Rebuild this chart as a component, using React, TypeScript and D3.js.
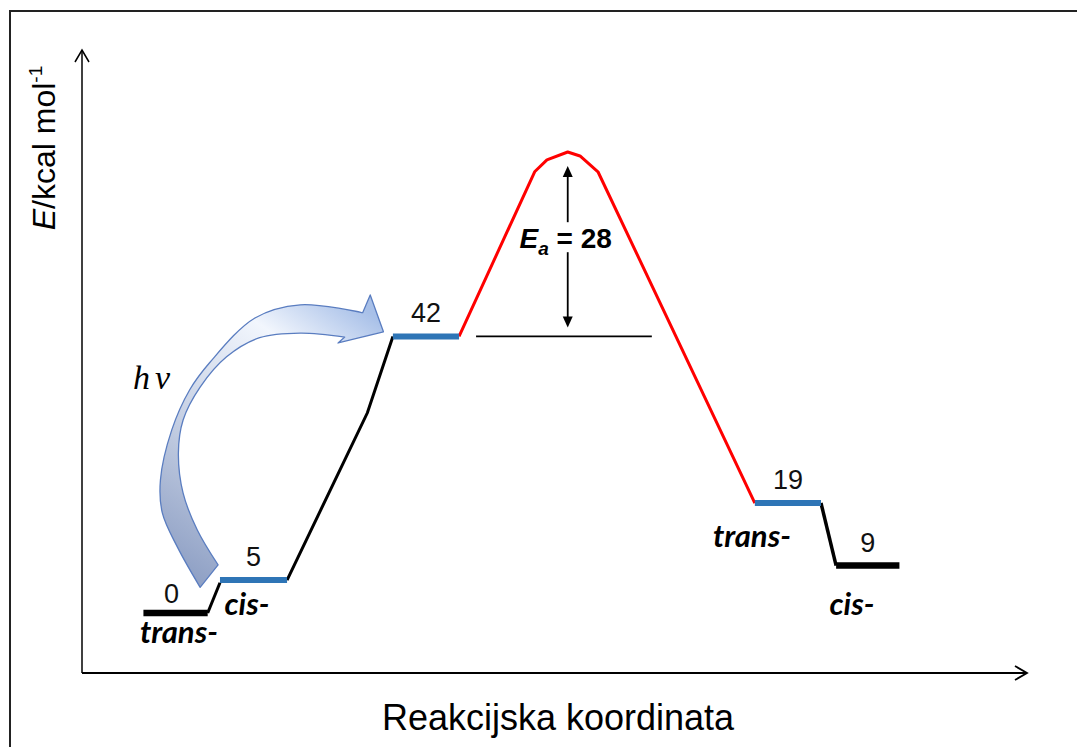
import * as d3 from "d3";

// energijski nivoi (oznake i nacrtane visine, očitano sa slike)
const levelLabels = ["0", "5", "42", "19", "9"];
const levelEnergy = [0, 5, 42, 16.7, 7.2];
const levelStart = [6.5, 14.6, 32.9, 71.2, 79.8];
const levelEnd = [13.3, 21.7, 39.9, 78.2, 86.5];
const levelColor = ["#000000", "#2e75b6", "#2e75b6", "#2e75b6", "#000000"];
const isomerNames = ["trans-", "cis-", "trans-", "cis-"];

// prijelazno stanje (crvena krivulja)
const barrierX = [39.9, 47.9, 49.2, 51.4, 52.7, 54.6, 71.2];
const barrierE = [42, 67.0, 68.8, 70, 69.4, 67.0, 16.7];

// crni spojevi
const rampX = [21.7, 30.2, 32.9];
const rampE = [5, 30.4, 42];
const stepLeftX = [13.3, 14.6];
const stepLeftE = [0, 4.6];
const stepRightX = [78.2, 79.8];
const stepRightE = [16.7, 7.2];

const activation = 28;

// zakrivljena strelica hν (u jedinicama grafa)
const hvOuterX = [29.7, 23.1, 18.3, 13.5, 11.4, 9.5, 8.3, 8.5, 10.1, 12.5];
const hvOuterE = [45.6, 46.8, 44.8, 38.0, 33.9, 27.8, 20.2, 15.2, 10.0, 3.9];
const hvInnerX = [27.8, 23.1, 18.8, 15.3, 12.5, 10.7, 10.2, 10.7, 12.2, 14.4];
const hvInnerE = [41.9, 42.5, 41.8, 38.9, 34.3, 29.3, 24.3, 18.2, 12.6, 7.3];
const hvHeadX = [30.5, 31.9, 27.1];
const hvHeadE = [48.3, 42.7, 41.0];

const W = 1077;
const H = 747;

export default function App() {
  const x = d3.scaleLinear().domain([0, 100]).range([82, 1027]);
  const y = d3.scaleLinear().domain([0, 70]).range([613, 152]);
  const y0 = 673;

  const line = d3
    .line<[number, number]>()
    .x((d) => x(d[0]))
    .y((d) => y(d[1]));
  const smooth = d3
    .line<[number, number]>()
    .x((d) => x(d[0]))
    .y((d) => y(d[1]))
    .curve(d3.curveCatmullRom);

  const zip = (a: number[], b: number[]) => a.map((v, i) => [v, b[i]] as [number, number]);

  // obris strelice
  const head = zip(hvHeadX, hvHeadE);
  const inner = smooth(zip(hvInnerX, hvInnerE)) || "";
  const outer = smooth(zip(hvOuterX, hvOuterE).reverse()) || "";
  const hvPath =
    `M${x(head[0][0])},${y(head[0][1])}L${x(head[1][0])},${y(head[1][1])}L${x(head[2][0])},${y(head[2][1])}` +
    inner.replace(/^M/, "L") +
    outer.replace(/^M/, "L") +
    "Z";

  const peakX = barrierX[3];
  const peakE = barrierE[3];
  const baseE = peakE - activation;
  const midY = (y(baseE) + y(peakE)) / 2;

  const labelFont = "'Liberation Sans', Arial, sans-serif";
  const isoFont = "Lato, 'Open Sans', sans-serif";

  const isoPos = [
    { x: 179, y: 643 },
    { x: 247, y: 615 },
    { x: 752, y: 547 },
    { x: 852, y: 615 },
  ];

  return (
    <svg
      width={W}
      height={H}
      style={{ position: "absolute", left: 0, top: 0, background: "#fff" }}
    >
      <defs>
        <linearGradient id="hvGrad" gradientUnits="userSpaceOnUse" x1={380} y1={320} x2={190} y2={590}>
          <stop offset="0" stopColor="#a8c0e8" />
          <stop offset="0.22" stopColor="#f2f6fd" />
          <stop offset="0.6" stopColor="#c5cfe3" />
          <stop offset="1" stopColor="#8a9cc2" />
        </linearGradient>
      </defs>

      {/* okvir */}
      <rect x={10} y={11} width={1100} height={780} fill="none" stroke="#222" strokeWidth={2} />

      {/* osi */}
      <line x1={82} y1={y0} x2={82} y2={50} stroke="#000" strokeWidth={1.5} />
      <path d="M75,62L82,50L89,62" fill="none" stroke="#000" strokeWidth={1.5} />
      <line x1={82} y1={y0} x2={1027} y2={y0} stroke="#000" strokeWidth={1.8} />
      <path d="M1015,666L1027,673L1015,680" fill="none" stroke="#000" strokeWidth={1.8} />

      <text
        transform={`translate(55,148) rotate(-90)`}
        textAnchor="middle"
        fontFamily={labelFont}
        fontSize={32}
        fill="#000"
      >
        <tspan fontStyle="italic">E</tspan>/kcal mol
        <tspan fontSize={19} dy={-13}>-1</tspan>
      </text>
      <text x={558} y={730} textAnchor="middle" fontFamily={labelFont} fontSize={36} fill="#000">
        Reakcijska koordinata
      </text>

      {/* strelica hν */}
      <path d={hvPath} fill="url(#hvGrad)" stroke="#5a7dc0" strokeWidth={1.3} strokeLinejoin="round" />
      <text x={133} y={389} fontFamily="'Liberation Serif', serif" fontStyle="italic" fontSize={34} letterSpacing={5}>
        hν
      </text>

      {/* spojevi */}
      <path d={line(zip(stepLeftX, stepLeftE)) || ""} fill="none" stroke="#000" strokeWidth={3} />
      <path d={line(zip(rampX, rampE)) || ""} fill="none" stroke="#000" strokeWidth={3} />
      <path d={line(zip(stepRightX, stepRightE)) || ""} fill="none" stroke="#000" strokeWidth={3.5} />
      <path d={line(zip(barrierX, barrierE)) || ""} fill="none" stroke="#ff0000" strokeWidth={3} strokeLinejoin="round" />

      {/* osnovna linija Ea */}
      <line x1={x(41.7)} x2={x(60.3)} y1={y(baseE)} y2={y(baseE)} stroke="#000" strokeWidth={1.8} />

      {/* nivoi */}
      {levelEnergy.map((e, i) => (
        <line
          key={i}
          x1={x(levelStart[i])}
          x2={x(levelEnd[i])}
          y1={y(e)}
          y2={y(e)}
          stroke={levelColor[i]}
          strokeWidth={i === 0 || i === 4 ? 6.5 : 6}
        />
      ))}
      {levelLabels.map((t, i) => (
        <text
          key={t}
          x={(x(levelStart[i]) + x(levelEnd[i])) / 2 + (i === 0 ? -4 : 0)}
          y={y(levelEnergy[i]) - (i === 0 ? 10 : 14)}
          textAnchor="middle"
          fontFamily={labelFont}
          fontSize={27}
          fill="#111"
        >
          {t}
        </text>
      ))}
      {isomerNames.map((t, i) => (
        <text
          key={i}
          x={isoPos[i].x}
          y={isoPos[i].y}
          textAnchor="middle"
          fontFamily={isoFont}
          fontStyle="italic"
          fontWeight="bold"
          fontSize={31}
          fill="#000"
        >
          {t}
        </text>
      ))}

      {/* Ea strelice */}
      <line x1={x(peakX)} x2={x(peakX)} y1={y(peakE) + 20} y2={midY - 22} stroke="#000" strokeWidth={1.8} />
      <path
        d={`M${x(peakX)},${y(peakE) + 14}l-5,11l10,0z`}
        fill="#000"
      />
      <line x1={x(peakX)} x2={x(peakX)} y1={midY + 8} y2={y(baseE) - 16} stroke="#000" strokeWidth={1.8} />
      <path
        d={`M${x(peakX)},${y(baseE) - 9}l-5,-11l10,0z`}
        fill="#000"
      />
      <rect x={x(peakX) - 52} y={midY - 21} width={104} height={28} fill="#fff" />
      <text
        x={x(peakX) - 2}
        y={midY + 4}
        textAnchor="middle"
        fontFamily={labelFont}
        fontWeight="bold"
        fontSize={28}
        fill="#000"
      >
        <tspan fontStyle="italic">E</tspan>
        <tspan fontStyle="italic" fontSize={19} dy={7}>a</tspan>
        <tspan dy={-7}> = {activation}</tspan>
      </text>
    </svg>
  );
}
